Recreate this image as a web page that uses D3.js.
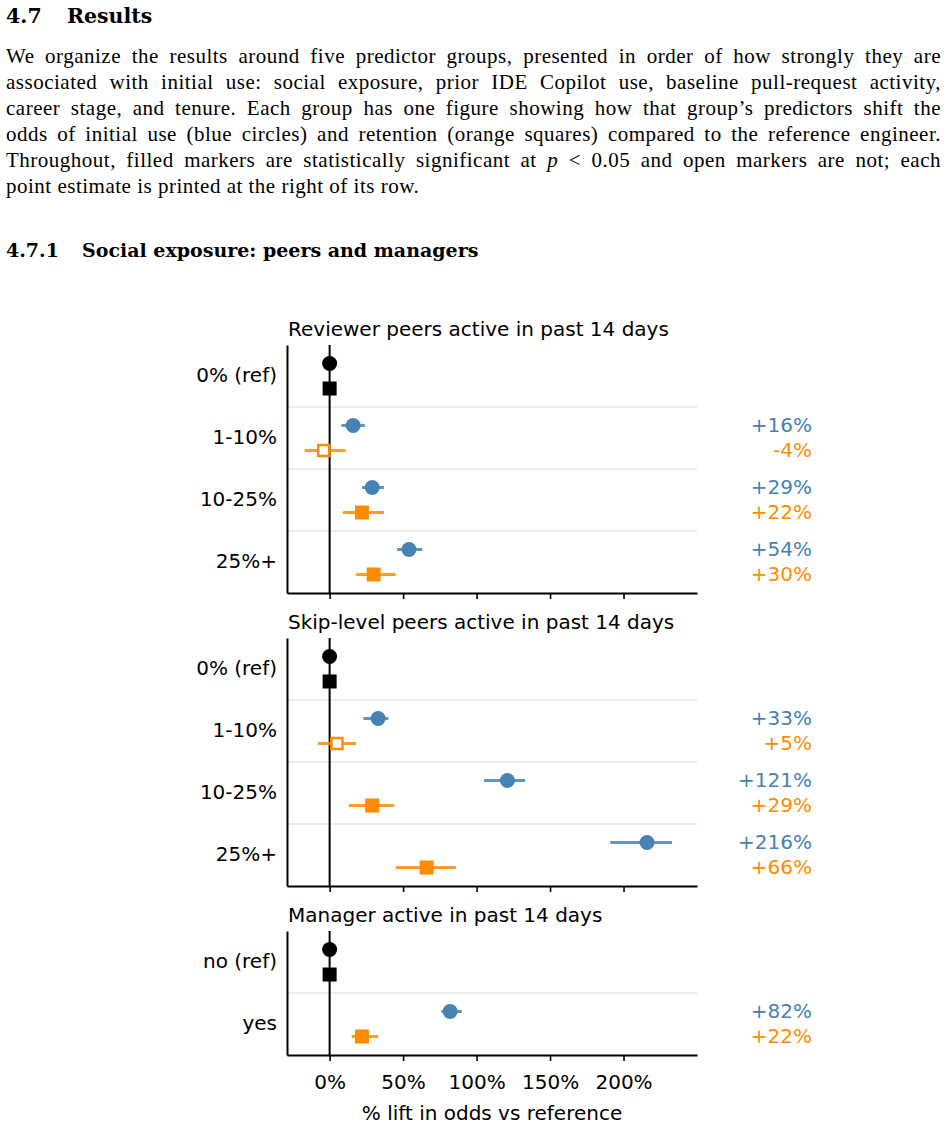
<!DOCTYPE html>
<html lang="en">
<head>
<meta charset="UTF-8">
<title>4.7 Results</title>
<script src="https://d3js.org/d3.v7.min.js"></script>
<style>
  body {
    margin: 0;
    background: #ffffff;
    width: 947px;
    height: 1128px;
    position: relative;
    overflow: hidden;
  }
  .doc {
    font-family: "Liberation Serif", "DejaVu Serif", serif;
    color: #000;
    position: absolute;
    left: 6px;
    width: 935px;
  }
  .h1 { top: 4px; font-family: "DejaVu Serif", serif; font-size: 20.5px; font-weight: bold; }
  .h2 { top: 239px; font-family: "DejaVu Serif", serif; font-size: 19px; font-weight: bold; }
  .num1 { display: inline-block; width: 61px; }
  .num2 { display: inline-block; width: 76px; }
  .para { top: 43px; font-size: 21px; line-height: 26px; letter-spacing: 0.5px; }
  .para div { text-align: justify; text-align-last: justify; white-space: nowrap; }
  .para div.last { text-align-last: left; }
  #chart { position: absolute; left: 0; top: 0; }
</style>
</head>
<body>
<div class="doc h1"><span class="num1">4.7</span>Results</div>
<div class="doc para">
  <div>We organize the results around five predictor groups, presented in order of how strongly they are</div>
  <div>associated with initial use: social exposure, prior IDE Copilot use, baseline pull-request activity,</div>
  <div>career stage, and tenure. Each group has one figure showing how that group’s predictors shift the</div>
  <div>odds of initial use (blue circles) and retention (orange squares) compared to the reference engineer.</div>
  <div>Throughout, filled markers are statistically significant at <i>p</i> &lt; 0.05 and open markers are not; each</div>
  <div class="last">point estimate is printed at the right of its row.</div>
</div>
<div class="doc h2"><span class="num2">4.7.1</span>Social exposure: peers and managers</div>
<svg id="chart" width="947" height="1128"></svg>
<script>
// panel titles and row categories
const panelTitles = [
  "Reviewer peers active in past 14 days",
  "Skip-level peers active in past 14 days",
  "Manager active in past 14 days"
];
const panelRows = [
  ["0% (ref)", "1-10%", "10-25%", "25%+"],
  ["0% (ref)", "1-10%", "10-25%", "25%+"],
  ["no (ref)", "yes"]
];

// initial use (blue circles): estimate, CI low, CI high, significant
const initEst  = [[0, 16, 29, 54], [0, 33, 121, 216], [0, 82]];
const initLow  = [[0, 8, 22, 46], [0, 23, 105, 191], [0, 76]];
const initHigh = [[0, 24, 37, 63], [0, 40, 133, 233], [0, 90]];
const initSig  = [[true, true, true, true], [true, true, true, true], [true, true]];

// retention (orange squares)
const retEst  = [[0, -4, 22, 30], [0, 5, 29, 66], [0, 22]];
const retLow  = [[0, -17, 9, 18], [0, -8, 13, 45], [0, 15]];
const retHigh = [[0, 11, 37, 45], [0, 18, 44, 86], [0, 33]];
const retSig  = [[true, false, true, true], [true, false, true, true], [true, true]];

const xTicks = [0, 50, 100, 150, 200];

const blue = "#4682b4", orange = "#ff8c00";
const font = "DejaVu Sans, sans-serif";
const fs = 20;

const svg = d3.select("#chart");
const x = d3.scaleLinear().domain([-29, 250]).range([287, 697]);

const rowH = 62;
const panelTops = [345, 638, 931];
const fmt = v => (v >= 0 ? "+" : "") + v + "%";

panelTitles.forEach((title, p) => {
  const rows = panelRows[p];
  const top = panelTops[p];
  const y = d3.scaleBand().domain(rows).range([top, top + rows.length * rowH]);
  const g = svg.append("g");
  const bottom = top + rows.length * rowH;

  g.append("text")
    .attr("x", 288).attr("y", top - 9)
    .attr("font-family", font).attr("font-size", fs)
    .text(title);

  // separators between rows
  rows.slice(1).forEach(r => {
    g.append("line")
      .attr("x1", x.range()[0]).attr("x2", x.range()[1])
      .attr("y1", y(r)).attr("y2", y(r))
      .attr("stroke", "#dcdcdc").attr("stroke-width", 1.2);
  });

  // zero line
  g.append("line")
    .attr("x1", x(0)).attr("x2", x(0))
    .attr("y1", top).attr("y2", bottom)
    .attr("stroke", "#000").attr("stroke-width", 2);

  // axes
  const xAxis = d3.axisBottom(x).tickValues(xTicks).tickSize(6).tickSizeOuter(0)
    .tickFormat(p === panelTitles.length - 1 ? (d => d + "%") : "");
  const ax = g.append("g").attr("transform", `translate(0,${bottom})`).call(xAxis);
  ax.select(".domain").attr("stroke-width", 2);
  ax.selectAll(".tick line").attr("stroke-width", 1.6);
  ax.selectAll(".tick text").attr("font-family", font).attr("font-size", fs).attr("dy", "1.25em");

  const yAxis = d3.axisLeft(y).tickSize(0).tickPadding(10).tickSizeOuter(0);
  const ay = g.append("g").attr("transform", `translate(${x.range()[0]},0)`).call(yAxis);
  ay.select(".domain").attr("stroke-width", 2);
  ay.selectAll(".tick text").attr("font-family", font).attr("font-size", fs);

  rows.forEach((r, i) => {
    const cy = y(r) + y.bandwidth() / 2;
    const yC = cy - 12.5, yS = cy + 12.5;
    const isRef = i === 0;
    const cB = isRef ? "#000" : blue;
    const cO = isRef ? "#000" : orange;

    // error bars
    if (!isRef) {
      g.append("line").attr("x1", x(initLow[p][i])).attr("x2", x(initHigh[p][i]))
        .attr("y1", yC).attr("y2", yC)
        .attr("stroke", cB).attr("stroke-width", 3).attr("stroke-opacity", 0.85);
      g.append("line").attr("x1", x(retLow[p][i])).attr("x2", x(retHigh[p][i]))
        .attr("y1", yS).attr("y2", yS)
        .attr("stroke", cO).attr("stroke-width", 3).attr("stroke-opacity", 0.85);
    }

    // circle
    const sc = initSig[p][i];
    g.append("circle")
      .attr("cx", x(initEst[p][i])).attr("cy", yC)
      .attr("r", sc ? 7.5 : 6)
      .attr("fill", sc ? cB : "#fff")
      .attr("stroke", cB).attr("stroke-width", sc ? 0 : 2.5);

    // square
    const ss = retSig[p][i];
    const sz = ss ? 14 : 11;
    g.append("rect")
      .attr("x", x(retEst[p][i]) - sz / 2).attr("y", yS - sz / 2)
      .attr("width", sz).attr("height", sz)
      .attr("fill", ss ? cO : "#fff")
      .attr("stroke", cO).attr("stroke-width", ss ? 0 : 2.5);

    // printed estimates
    if (!isRef) {
      g.append("text").attr("x", 812).attr("y", yC).attr("dy", "0.3em")
        .attr("text-anchor", "end").attr("font-family", font).attr("font-size", fs)
        .attr("fill", blue).text(fmt(initEst[p][i]));
      g.append("text").attr("x", 812).attr("y", yS).attr("dy", "0.3em")
        .attr("text-anchor", "end").attr("font-family", font).attr("font-size", fs)
        .attr("fill", orange).text(fmt(retEst[p][i]));
    }
  });

  if (p === panelTitles.length - 1) {
    svg.append("text")
      .attr("x", (x.range()[0] + x.range()[1]) / 2).attr("y", 1120)
      .attr("text-anchor", "middle").attr("font-family", font).attr("font-size", fs)
      .text("% lift in odds vs reference");
  }
});
</script>
</body>
</html>
